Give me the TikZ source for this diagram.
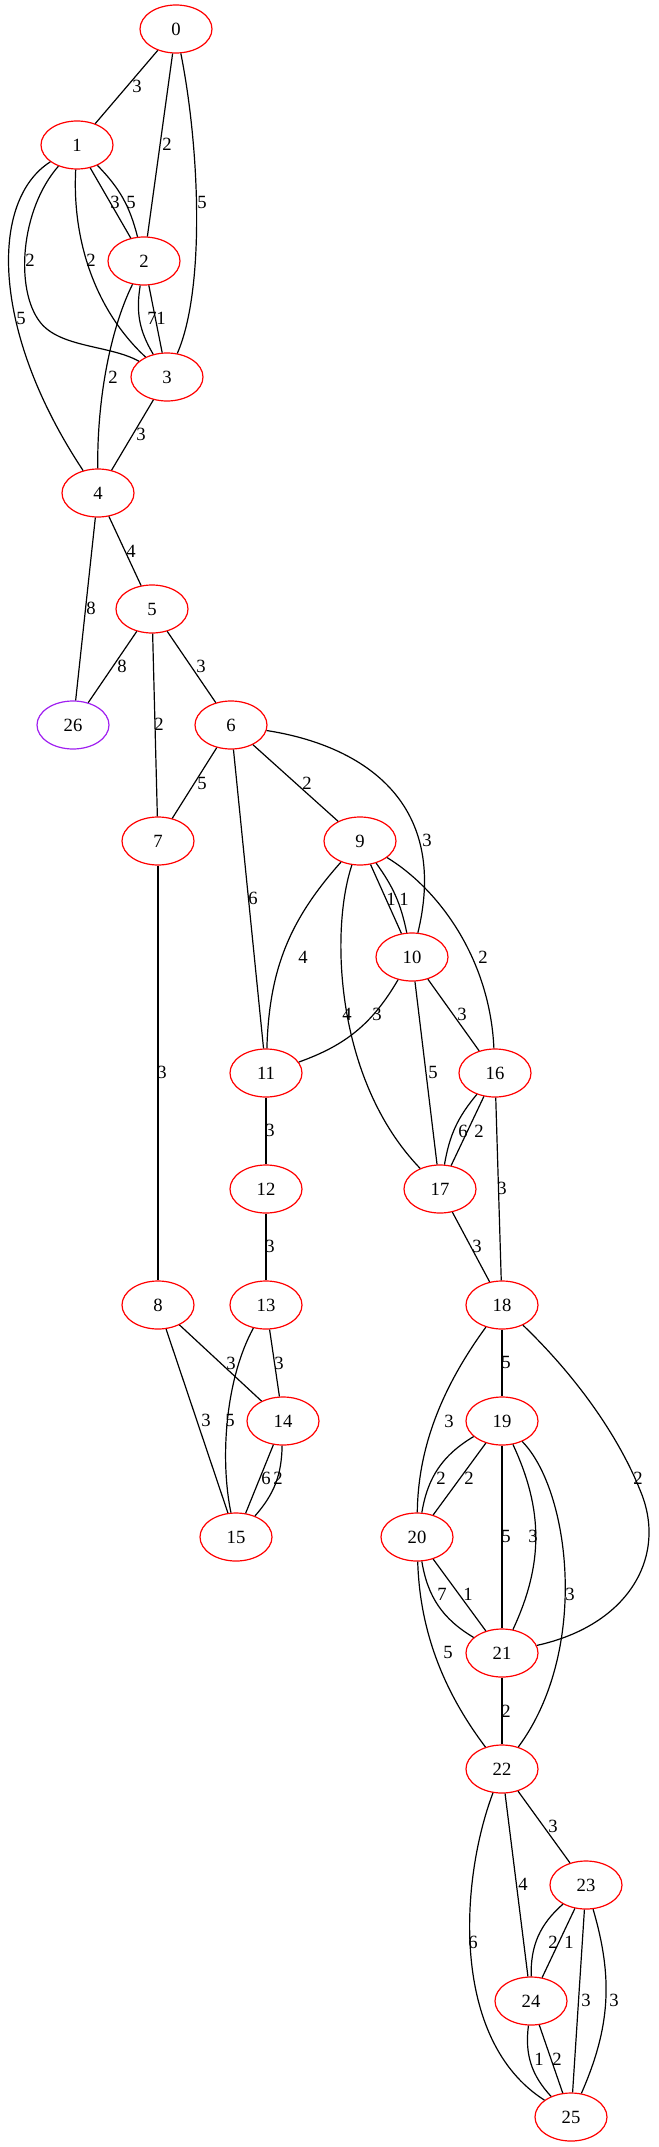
\documentclass[tikz,border=0pt]{standalone}
\usepackage{fontspec}
\setmainfont{Liberation Serif}
\usetikzlibrary{shapes.geometric}

\definecolor{gvpurple}{HTML}{A020F0}

\tikzset{
  vertex/.style={ellipse, draw=red, line width=0.9pt, minimum width=54pt,
    minimum height=36pt, inner sep=0pt, font=\fontsize{14}{16}\selectfont},
  lbl/.style={inner sep=0pt, font=\fontsize{14}{16}\selectfont},
  link/.style={black, line width=0.9pt},
}

\begin{document}
\begin{tikzpicture}[x=0.75pt, y=-0.75pt]
    \useasboundingbox (0,0) rectangle (658,2147);

    % Vertices
    \node[vertex] (n0) at (176,29) {0};
    \node[vertex] (n1) at (77,145) {1};
    \node[vertex] (n2) at (144,261) {2};
    \node[vertex] (n3) at (167,377) {3};
    \node[vertex] (n4) at (98,493) {4};
    \node[vertex] (n5) at (152,609) {5};
    \node[vertex, draw=gvpurple] (n26) at (73,725) {26};
    \node[vertex] (n6) at (231,725) {6};
    \node[vertex] (n7) at (158,841) {7};
    \node[vertex] (n9) at (360,841) {9};
    \node[vertex] (n10) at (412,957) {10};
    \node[vertex] (n11) at (266,1073) {11};
    \node[vertex] (n16) at (495,1073) {16};
    \node[vertex] (n12) at (266,1189) {12};
    \node[vertex] (n17) at (440,1189) {17};
    \node[vertex] (n8) at (158,1305) {8};
    \node[vertex] (n13) at (266,1305) {13};
    \node[vertex] (n18) at (502,1305) {18};
    \node[vertex] (n14) at (283,1421) {14};
    \node[vertex] (n19) at (502,1421) {19};
    \node[vertex] (n15) at (236,1537) {15};
    \node[vertex] (n20) at (417,1537) {20};
    \node[vertex] (n21) at (502,1653) {21};
    \node[vertex] (n22) at (502,1769) {22};
    \node[vertex] (n23) at (586,1885) {23};
    \node[vertex] (n24) at (531,2001) {24};
    \node[vertex] (n25) at (571,2117) {25};

    % Edges 0 - 5
    \draw[link] (n0) -- (n1) node[lbl] at (137,86) {3};
    \draw[link] (n0) -- (n2) node[lbl] at (167,144) {2};
    \draw[link] (n0) .. controls (200,150) and (205,290) .. (n3) node[lbl] at (202,202) {5};
    \draw[link] (n1) -- (n2) node[lbl] at (115,202) {3};
    \draw[link] (n1) to[bend left=15] (n2) node[lbl] at (131,202) {5};
    \draw[link] (n1) .. controls (20,210) and (15,290) .. (40,322)
        .. controls (60,348) and (110,345) .. (n3) node[lbl] at (30,260) {2};
    \draw[link] (n1) .. controls (72,240) and (95,310) .. (n3) node[lbl] at (91,260) {2};
    \draw[link] (n1) .. controls (-10,200) and (-10,330) .. (n4) node[lbl] at (21,318) {5};
    \draw[link] (n2) to[bend right=20] (n3) node[lbl] at (152,318) {7};
    \draw[link] (n2) -- (n3) node[lbl] at (161,318) {1};
    \draw[link] (n2) .. controls (110,330) and (97,400) .. (n4) node[lbl] at (113,377) {2};
    \draw[link] (n3) -- (n4) node[lbl] at (141,434) {3};
    \draw[link] (n4) -- (n5) node[lbl] at (131,551) {4};
    \draw[link] (n4) -- (n26) node[lbl] at (91,608) {8};
    \draw[link] (n5) -- (n26) node[lbl] at (122,666) {8};
    \draw[link] (n5) -- (n6) node[lbl] at (201,666) {3};
    \draw[link] (n5) -- (n7) node[lbl] at (159,724) {2};

    % Edges 6 - 17
    \draw[link] (n6) -- (n7) node[lbl] at (202,783) {5};
    \draw[link] (n6) -- (n9) node[lbl] at (307,783) {2};
    \draw[link] (n6) .. controls (360,745) and (450,800) .. (n10) node[lbl] at (427,840) {3};
    \draw[link] (n6) -- (n11) node[lbl] at (253,898) {6};
    \draw[link] (n7) -- (n8) node[lbl] at (162,1072) {3};
    \draw[link] (n9) -- (n10) node[lbl] at (391,899) {1};
    \draw[link] (n9) to[bend left=12] (n10) node[lbl] at (404,899) {1};
    \draw[link] (n9) to[bend right=20] (n11) node[lbl] at (303,957) {4};
    \draw[link] (n9) .. controls (330,930) and (335,1080) .. (n17) node[lbl] at (347,1014) {4};
    \draw[link] (n9) .. controls (440,890) and (490,960) .. (n16) node[lbl] at (483,957) {2};
    \draw[link] (n10) to[bend left=20] (n11) node[lbl] at (377,1014) {3};
    \draw[link] (n10) -- (n17) node[lbl] at (433,1072) {5};
    \draw[link] (n10) -- (n16) node[lbl] at (462,1014) {3};
    \draw[link] (n11) -- (n12) node[lbl] at (270,1130) {3};
    \draw[link] (n16) to[bend right=15] (n17) node[lbl] at (463,1131) {6};
    \draw[link] (n16) -- (n17) node[lbl] at (479,1131) {2};
    \draw[link] (n16) -- (n18) node[lbl] at (502,1188) {3};
    \draw[link] (n17) -- (n18) node[lbl] at (477,1246) {3};

    % Edges 8 - 15
    \draw[link] (n12) -- (n13) node[lbl] at (270,1246) {3};
    \draw[link] (n8) -- (n14) node[lbl] at (231,1363) {3};
    \draw[link] (n8) -- (n15) node[lbl] at (206,1420) {3};
    \draw[link] (n13) -- (n14) node[lbl] at (279,1363) {3};
    \draw[link] (n13) .. controls (225,1380) and (220,1460) .. (n15) node[lbl] at (230,1420) {5};
    \draw[link] (n14) -- (n15) node[lbl] at (266,1478) {6};
    \draw[link] (n14) to[bend left=20] (n15) node[lbl] at (278,1478) {2};

    % Edges 18 - 22
    \draw[link] (n18) -- (n19) node[lbl] at (506,1362) {5};
    \draw[link] (n18) .. controls (440,1390) and (418,1450) .. (n20) node[lbl] at (449,1421) {3};
    \draw[link] (n18) .. controls (580,1380) and (620,1440) .. (640,1490)
        .. controls (668,1555) and (630,1625) .. (n21) node[lbl] at (638,1478) {2};
    \draw[link] (n19) to[bend right=25] (n20) node[lbl] at (441,1478) {2};
    \draw[link] (n19) -- (n20) node[lbl] at (469,1478) {2};
    \draw[link] (n19) -- (n21) node[lbl] at (506,1536) {5};
    \draw[link] (n19) to[bend left=25] (n21) node[lbl] at (533,1536) {3};
    \draw[link] (n19) .. controls (570,1490) and (590,1650) .. (n22) node[lbl] at (570,1594) {3};
    \draw[link] (n20) to[bend right=25] (n21) node[lbl] at (442,1594) {7};
    \draw[link] (n20) -- (n21) node[lbl] at (468,1594) {1};
    \draw[link] (n20) .. controls (420,1640) and (450,1700) .. (n22) node[lbl] at (448,1652) {5};
    \draw[link] (n21) -- (n22) node[lbl] at (506,1711) {2};

    % Edges 22 - 25
    \draw[link] (n22) -- (n23) node[lbl] at (553,1826) {3};
    \draw[link] (n22) -- (n24) node[lbl] at (523,1884) {4};
    \draw[link] (n22) .. controls (460,1880) and (450,2040) .. (n25) node[lbl] at (473,1942) {6};
    \draw[link] (n23) to[bend right=25] (n24) node[lbl] at (553,1942) {2};
    \draw[link] (n23) -- (n24) node[lbl] at (569,1942) {1};
    \draw[link] (n23) -- (n25) node[lbl] at (586,2000) {3};
    \draw[link] (n23) to[bend left=20] (n25) node[lbl] at (614,2000) {3};
    \draw[link] (n24) to[bend right=25] (n25) node[lbl] at (539,2059) {1};
    \draw[link] (n24) -- (n25) node[lbl] at (557,2059) {2};

\end{tikzpicture}
\end{document}
